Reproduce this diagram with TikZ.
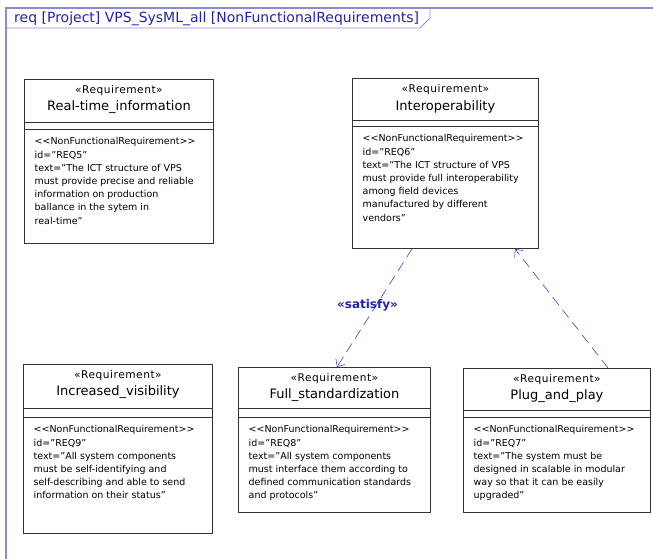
\documentclass[tikz,border=0pt]{standalone}
\usepackage{fontspec}
\setmainfont{DejaVu Sans}
\usetikzlibrary{arrows.meta,calc}

\definecolor{framecol}{RGB}{140,140,205}
\definecolor{titlecol}{RGB}{35,35,165}
\definecolor{linkcol}{RGB}{70,70,175}
\definecolor{boxcol}{RGB}{50,50,50}

\tikzset{
  reqbox/.style={draw=boxcol, line width=0.9pt, anchor=north west, inner sep=0pt},
  stereo/.style={font=\fontsize{10.6}{12}\selectfont\addfontfeature{LetterSpace=5}, inner sep=0pt},
  reqname/.style={font=\fontsize{13}{15}\selectfont, inner sep=0pt},
  reqbody/.style={font=\fontsize{9.5}{13.2}\selectfont, align=left, anchor=north west, inner sep=0pt},
  trace/.style={draw=linkcol, line width=0.6pt, dash pattern=on 10pt off 6pt, -{Straight Barb[length=6pt,width=11pt]}},
}

% #1 node name, #2 left, #3 top, #4 width, #5 height,
% #6 first separator offset, #7 second separator offset, #8 title, #9 body
\newcommand{\reqelement}[9]{%
  \node[reqbox, minimum width=#4pt, minimum height=#5pt] (#1) at (#2,#3) {};
  \draw[boxcol, line width=0.7pt] ([yshift=-#6pt]#1.north west) -- ([yshift=-#6pt]#1.north east);
  \draw[boxcol, line width=0.7pt] ([yshift=-#7pt]#1.north west) -- ([yshift=-#7pt]#1.north east);
  \node[stereo] (#1-st) at ([yshift=-11.5pt]#1.north) {«Requirement»};
  \node[reqname] (#1-nm) at ([yshift=-28.5pt]#1.north) {#8};
  \node[reqbody] (#1-bd) at ([xshift=10.5pt,yshift=-#7pt-8.5pt]#1.north west) {#9};
}

\begin{document}
\begin{tikzpicture}[x=1pt,y=-1pt]
\useasboundingbox (0,0) rectangle (653,559);

% diagram frame with its name tab
\coordinate (fr-tl) at (6,8);
\coordinate (fr-tr) at (653,8);
\coordinate (fr-bl) at (6,559);
\draw[framecol, line width=1.6pt] (fr-bl) -- (fr-tl) -- (fr-tr);
\draw[framecol, line width=0.9pt] (6,28) -- (420,28) -- (430,18) -- (430,8);
\node[anchor=west, text=titlecol, font=\fontsize{14}{15}\selectfont, inner sep=0pt] (title) at (14,18.5)
  {req [Project] VPS\_SysML\_all [NonFunctionalRequirements]};

\reqelement{rt}{24}{79}{189}{164}{43}{50}{Real-time\_information}
  {<{}<NonFunctionalRequirement>{}>\\id="REQ5"\\text="The ICT structure of VPS\\must provide precise and reliable\\information on production\\ballance in the sytem in\\real-time"}

\reqelement{io}{352}{78}{186}{170}{42}{48}{Interoperability}
  {<{}<NonFunctionalRequirement>{}>\\id="REQ6"\\text="The ICT structure of VPS\\must provide full interoperability\\among field devices\\manufactured by different\\vendors"}

\reqelement{iv}{23}{364}{189}{169}{44}{53}{Increased\_visibility}
  {<{}<NonFunctionalRequirement>{}>\\id="REQ9"\\text="All system components\\must be self-identifying and\\self-describing and able to send\\information on their status"}

\reqelement{fs}{238}{367}{192}{145}{41}{50}{Full\_standardization}
  {<{}<NonFunctionalRequirement>{}>\\id="REQ8"\\text="All system components\\must interface them according to\\defined communication standards\\and protocols"}

\reqelement{pp}{463}{368}{187}{144}{42}{49}{Plug\_and\_play}
  {<{}<NonFunctionalRequirement>{}>\\id="REQ7"\\text="The system must be\\designed in scalable in modular\\way so that it can be easily\\upgraded"}

% relationships
\draw[trace] ([xshift=60pt]io.south west) -- ([xshift=99pt]fs.north west)
  node[pos=0.5, text=titlecol, font=\bfseries\fontsize{12}{14}\selectfont, inner sep=0pt, xshift=-7pt, yshift=3pt] (sat) {«satisfy»};
\draw[trace] ([xshift=145pt]pp.north west) -- ([xshift=163pt]io.south west);

\end{tikzpicture}
\end{document}
